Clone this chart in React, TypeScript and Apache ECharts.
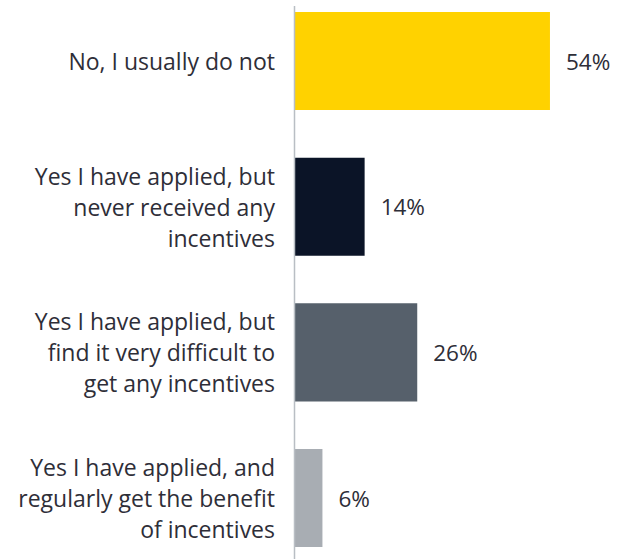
import React, { useEffect, useRef } from "react";
import * as echarts from "echarts";

const categories: string[] = [
  "No, I usually do not",
  "Yes I have applied, but\nnever received any\nincentives",
  "Yes I have applied, but\nfind it very difficult to\nget any incentives",
  "Yes I have applied, and\nregularly get the benefit\nof incentives",
];
// bar lengths
const values: number[] = [54, 14.9, 26, 6];
// value labels as printed
const valueLabels: string[] = ["54%", "14%", "26%", "6%"];
const barColors: string[] = ["#FFD200", "#0B1427", "#56606B", "#A8ADB3"];

export default function App() {
  const ref = useRef<HTMLDivElement>(null);
  useEffect(() => {
    if (!ref.current) return;
    const chart = echarts.init(ref.current, null, { renderer: "svg" });
    const font = "'Open Sans', sans-serif";
    chart.setOption({
      animation: false,
      backgroundColor: "#ffffff",
      grid: {
        left: 294,
        right: 43.6,
        top: -11.8,
        height: 582.7,
        containLabel: false,
        outerBoundsMode: "none",
      },
      xAxis: {
        type: "value",
        min: 0,
        max: 60,
        show: false,
      },
      yAxis: {
        type: "category",
        data: categories,
        inverse: true,
        axisLine: { show: false },
        axisTick: { show: false },
        splitLine: { show: false },
        axisLabel: {
          margin: 19,
          fontFamily: font,
          fontSize: 23,
          lineHeight: 31,
          color: "#2E2E38",
          align: "right",
        },
      },
      graphic: [
        {
          type: "line",
          shape: { x1: 294.5, y1: 6, x2: 294.5, y2: 559 },
          style: { stroke: "#B9BEC4", lineWidth: 1.5 },
          z: 10,
        },
      ],
      series: [
        {
          type: "bar",
          data: values.map((v, i) => ({ value: v, itemStyle: { color: barColors[i] } })),
          barCategoryGap: "32.7%",
          label: {
            show: true,
            position: "right",
            distance: 16,
            formatter: (p: any) => valueLabels[p.dataIndex],
            fontFamily: font,
            fontSize: 22.5,
            color: "#2E2E38",
          },
        },
      ],
    });
    return () => chart.dispose();
  }, []);
  return <div ref={ref} style={{ width: 622, height: 559, position: "fixed", left: 0, top: 0 }} />;
}
